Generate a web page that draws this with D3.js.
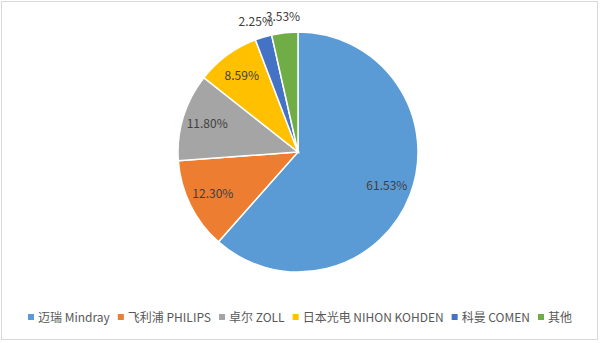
<!DOCTYPE html>
<html>
<head>
<meta charset="utf-8">
<script src="https://cdn.jsdelivr.net/npm/d3@7"></script>
<style>
  body { margin: 0; background: #fff; }
  svg { display: block; }
</style>
</head>
<body>
<script>
// chart values
const names = ['迈瑞 Mindray', '飞利浦 PHILIPS', '卓尔 ZOLL', '日本光电 NIHON KOHDEN', '科曼 COMEN', '其他'];
const shares = [61.53, 12.30, 11.80, 8.59, 2.25, 3.53];
const colors = ['#5B9BD5', '#ED7D31', '#A5A5A5', '#FFC000', '#4472C4', '#70AD47'];

const w = 600;
const h = 343;
const cx = 298, cy = 152, r = 120;
const font = '"Noto Sans CJK SC", "Noto Sans", sans-serif';

const svg = d3.select('body')
              .append('svg')
              .attr('width', w)
              .attr('height', h);

// chart area border
svg.append('rect')
   .attr('x', 1.5).attr('y', 1.5)
   .attr('width', w - 4).attr('height', h - 5)
   .attr('fill', '#fff')
   .attr('stroke', '#d9d9d9');

const dataset = names.map((n, i) => ({name: n, value: shares[i], color: colors[i]}));

const pie = d3.pie().sort(null).value(d => d.value);
const arc = d3.arc().innerRadius(0).outerRadius(r);
const arcs = pie(dataset);

const g = svg.append('g')
             .attr('transform', 'translate(' + cx + ',' + cy + ')');

g.selectAll('path')
 .data(arcs)
 .enter()
 .append('path')
 .attr('d', arc)
 .attr('fill', d => d.data.color)
 .attr('stroke', '#fff')
 .attr('stroke-width', 1.5);

// labels: inside for big slices, outside for the small ones
const inner = d3.arc().innerRadius(95).outerRadius(95);
const outer = d3.arc().innerRadius(136).outerRadius(136);

g.selectAll('text.lbl')
 .data(arcs)
 .enter()
 .append('text')
 .attr('class', 'lbl')
 .attr('transform', d => {
   const p = (d.data.value < 5 ? outer : inner).centroid(d);
   if (d.index === 4) p[0] -= 3; // pull the crowded one a little left
   return 'translate(' + p + ')';
 })
 .attr('text-anchor', 'middle')
 .attr('dy', '0.35em')
 .style('font-family', font)
 .style('font-size', '12px')
 .style('fill', '#404040')
 .text(d => d.data.value.toFixed(2) + '%');

// legend
const legend = svg.append('g').attr('transform', 'translate(0, 318)');
let x = 0;
const items = legend.selectAll('g')
  .data(dataset)
  .enter()
  .append('g');

items.append('rect')
     .attr('width', 6).attr('height', 6)
     .attr('y', -4)
     .attr('fill', d => d.color);

items.append('text')
     .attr('x', 10)
     .attr('dy', '0.35em')
     .style('font-family', font)
     .style('font-size', '12px')
     .style('fill', '#595959')
     .text(d => d.name);

items.each(function () {
  const t = d3.select(this).select('text').node().getComputedTextLength();
  d3.select(this).attr('transform', 'translate(' + x + ',0)');
  x += 10 + t + 8;
});
const total = x - 8;
legend.attr('transform', 'translate(' + ((w - total) / 2) + ', 318)');
</script>
</body>
</html>
